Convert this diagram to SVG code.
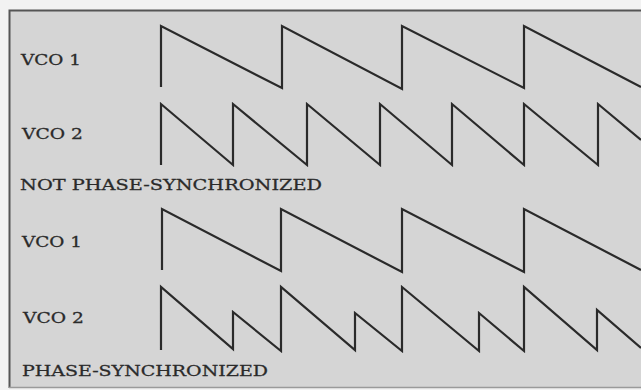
<svg xmlns="http://www.w3.org/2000/svg" width="641" height="390" viewBox="0 0 641 390">
<style>
.w{fill:none;stroke:#2a2a2a;stroke-width:2.2;stroke-linejoin:miter}
.t{font-family:"DejaVu Serif","Liberation Serif",serif;font-size:15.5px;fill:#2a2a2a;stroke:#2a2a2a;stroke-width:0.3}
</style>
<rect x="0" y="0" width="641" height="390" fill="#f2f2f2"/>
<rect x="9" y="10" width="640" height="377" fill="#d5d5d5"/>
<path d="M9.5 388 V10.5 H641" fill="none" stroke="#555" stroke-width="2"/>
<path d="M9 387.5 H641" fill="none" stroke="#9a9a9a" stroke-width="1.5"/>
<g id="labels">
<text class="t" x="21" y="65" textLength="60" lengthAdjust="spacingAndGlyphs">VCO 1</text>
<text class="t" x="22" y="139" textLength="61" lengthAdjust="spacingAndGlyphs">VCO 2</text>
<text class="t" x="20" y="190" textLength="302" lengthAdjust="spacingAndGlyphs">NOT PHASE-SYNCHRONIZED</text>
<text class="t" x="22" y="247" textLength="60" lengthAdjust="spacingAndGlyphs">VCO 1</text>
<text class="t" x="23" y="323" textLength="61" lengthAdjust="spacingAndGlyphs">VCO 2</text>
<text class="t" x="22" y="376" textLength="246" lengthAdjust="spacingAndGlyphs">PHASE-SYNCHRONIZED</text>
</g>
<g id="waves">
<path id="vco1-a" class="w" d="M161 87 V26 L282 88 V26 L402 89 V26 L524 88 V26 L641 87"/>
<path id="vco2-a" class="w" d="M161 165 V104 L233 165 V104 L307 165 V104 L380 165 V104 L452 165 V104 L524 165 V104 L598 165 V104 L641 140"/>
<path id="vco1-b" class="w" d="M162 270 V209 L281 271 V209 L402 272 V209 L524 272 V209 L641 270"/>
<path id="vco2-b" class="w" d="M161 350 V287 L233 349 V312 L281 351 V287 L355 350 V313 L402 351 V287 L479 351 V313 L524 351 V287 L597 350 V310 L641 348"/>
</g>
</svg>
